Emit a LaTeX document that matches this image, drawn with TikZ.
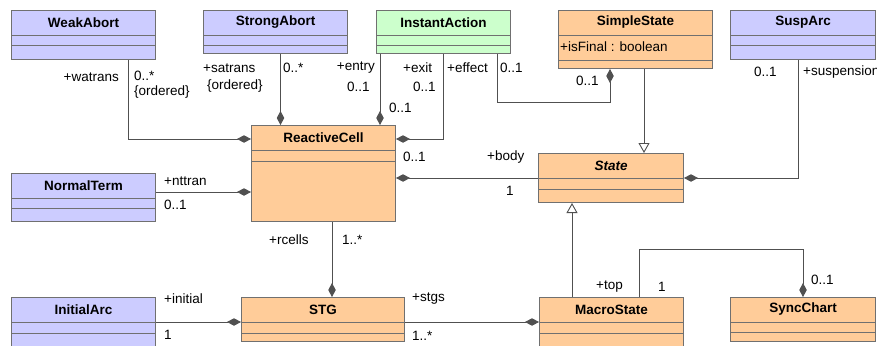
\documentclass[tikz,border=0pt]{standalone}
\usepackage{fontspec}
\setmainfont{Liberation Sans}
\usetikzlibrary{arrows.meta}

\definecolor{lilas}{HTML}{CCCCFF}
\definecolor{verde}{HTML}{CCFFCC}
\definecolor{laranja}{HTML}{FFCC99}
\definecolor{borda}{HTML}{707070}
\definecolor{linha}{HTML}{505050}

\newcommand{\tam}{\fontsize{13.5}{16}\selectfont}
% caixa de classe: nome, cor, x, y, largura, altura, titulo, segunda linha
\newcommand{\classe}[8]{%
   \node[caixa,fill=#2,minimum width=#5pt,minimum height=#6pt,anchor=north west] (#1) at (#3,#4) {};
   \node[titulo] at ([yshift=-12.5pt]#1.north) {#7};
   \draw[color=borda] ([yshift=-25pt]#1.north west) -- ([yshift=-25pt]#1.north east);
   \draw[color=borda] ([yshift=-#8pt]#1.north west) -- ([yshift=-#8pt]#1.north east);
}

\begin{document}
\begin{tikzpicture}[x=1pt,y=-1pt,font=\tam,
   caixa/.style={draw=borda,line width=1pt,inner sep=0pt},
   titulo/.style={font=\tam\bfseries},
   rotulo/.style={inner sep=0pt},
   composto/.style={color=linha,line width=0.9pt,-{Diamond[length=14pt,width=7.5pt]}},
   heranca/.style={color=linha,line width=0.9pt,-{Triangle[open,fill=white,length=10pt,width=11pt]}}]
   \useasboundingbox (0,0) rectangle (877,345);

   \classe{weak}{lilas}{11}{10}{144}{49}{WeakAbort}{35}
   \classe{strong}{lilas}{203}{10}{144}{43}{StrongAbort}{35}
   \classe{instant}{verde}{376}{10}{134}{43}{InstantAction}{35}
   \classe{simple}{laranja}{558}{10}{154}{58}{SimpleState}{50}
   \classe{susp}{lilas}{730}{10}{145}{49}{SuspArc}{35}
   \classe{cell}{laranja}{251}{125}{144}{96}{ReactiveCell}{36}
   \classe{state}{laranja}{538}{153}{145}{49}{\itshape State}{36}
   \classe{normal}{lilas}{11}{173}{144}{48}{NormalTerm}{35}
   \classe{initial}{lilas}{11}{297}{144}{55}{InitialArc}{36}
   \classe{stg}{laranja}{241}{297}{163}{44}{STG}{36}
   \classe{macro}{laranja}{539}{297}{144}{55}{MacroState}{36}
   \classe{sync}{laranja}{730}{297}{145}{44}{SyncChart}{35}
   \node[rotulo,anchor=west] (final) at (560,47) {+isFinal : boolean};

   % composicoes
   \draw[composto] ([xshift=-28pt]weak.south east) |- ([yshift=-14pt]cell.north west);
   \draw[composto] ([xshift=5pt]strong.south) -- ([xshift=5pt]strong.south |- cell.north);
   \draw[composto] ([xshift=4pt]instant.south west) -- ([xshift=4pt]instant.south west |- cell.north);
   \draw[composto] (instant.south) |- ([yshift=-14pt]cell.north east);
   \draw[composto] ([xshift=-14pt]instant.south east) -- ++(0,48) -| ([xshift=52pt]simple.south west);
   \draw[composto] ([xshift=68pt]susp.south west) |- ([yshift=-25pt]state.north east);
   \draw[composto] (state.west) -- (state.west -| cell.east);
   \draw[composto] ([yshift=-19pt]normal.north east) -- ([yshift=-19pt]normal.north east -| cell.west);
   \draw[composto] ([xshift=81pt]cell.south west) -- ([xshift=81pt]cell.south west |- stg.north);
   \draw[composto] ([yshift=-25pt]initial.north east) -- ([yshift=-25pt]initial.north east -| stg.west);
   \draw[composto] ([yshift=-25pt]stg.north east) -- ([yshift=-25pt]stg.north east -| macro.west);
   \draw[composto] ([xshift=100pt]macro.north west) -- ++(0,-48) -| ([xshift=73pt]sync.north west);

   % heranca
   \draw[heranca] ([xshift=86pt]simple.south west) -- ([xshift=86pt]simple.south west |- state.north);
   \draw[heranca] ([xshift=33pt]macro.north west) -- ([xshift=33pt]macro.north west |- state.south);

   % papeis e multiplicidades
   \node[rotulo,anchor=east] at (119,77) {+watrans};
   \node[rotulo,anchor=west] at (134,76) {0..*};
   \node[rotulo,anchor=west] at (134,92) {\{ordered\}};
   \node[rotulo,anchor=west] at (203,68) {+satrans};
   \node[rotulo,anchor=west] at (207,86) {\{ordered\}};
   \node[rotulo,anchor=west] at (283,68) {0..*};
   \node[rotulo,anchor=east] at (375,68) {+entry};
   \node[rotulo,anchor=west] at (347,87) {0..1};
   \node[rotulo,anchor=west] at (389,108) {0..1};
   \node[rotulo,anchor=west] at (403,68) {+exit};
   \node[rotulo,anchor=west] at (413,87) {0..1};
   \node[rotulo,anchor=west] at (447,68) {+effect};
   \node[rotulo,anchor=west] at (500,68) {0..1};
   \node[rotulo,anchor=west] at (576,81) {0..1};
   \node[rotulo,anchor=west] at (754,72) {0..1};
   \node[rotulo,anchor=west] at (803,72) {+suspension};
   \node[rotulo,anchor=west] at (403,157) {0..1};
   \node[rotulo,anchor=west] at (487,157) {+body};
   \node[rotulo,anchor=west] at (506,191) {1};
   \node[rotulo,anchor=west] at (164,181) {+nttran};
   \node[rotulo,anchor=west] at (164,205) {0..1};
   \node[rotulo,anchor=west] at (269,240) {+rcells};
   \node[rotulo,anchor=west] at (342,240) {1..*};
   \node[rotulo,anchor=west] at (164,299) {+initial};
   \node[rotulo,anchor=west] at (164,335) {1};
   \node[rotulo,anchor=west] at (412,299) {+stgs};
   \node[rotulo,anchor=west] at (412,336) {1..*};
   \node[rotulo,anchor=west] at (596,287) {+top};
   \node[rotulo,anchor=west] at (658,287) {1};
   \node[rotulo,anchor=west] at (811,280) {0..1};
\end{tikzpicture}
\end{document}
